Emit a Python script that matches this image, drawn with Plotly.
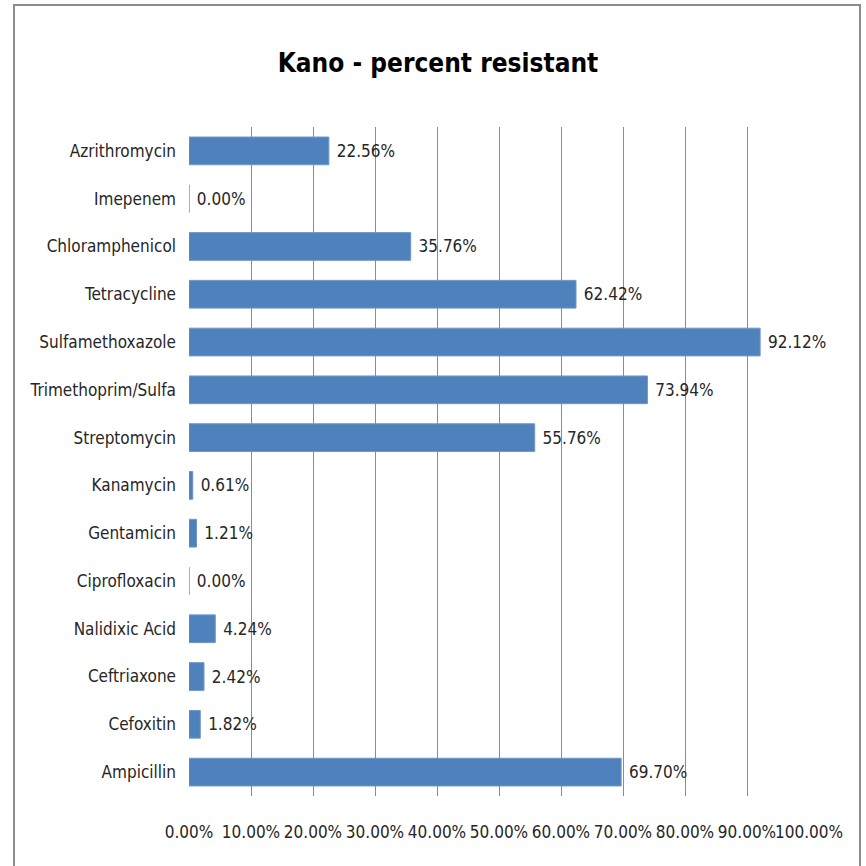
import plotly.graph_objects as go

# Antibiotic resistance, Kano isolates (percent of isolates resistant)
drugs = [
    "Azrithromycin", "Imepenem", "Chloramphenicol", "Tetracycline",
    "Sulfamethoxazole", "Trimethoprim/Sulfa", "Streptomycin", "Kanamycin",
    "Gentamicin", "Ciprofloxacin", "Nalidixic Acid", "Ceftriaxone",
    "Cefoxitin", "Ampicillin",
]
percent_resistant = [
    22.56, 0.00, 35.76, 62.42, 92.12, 73.94, 55.76, 0.61,
    1.21, 0.00, 4.24, 2.42, 1.82, 69.70,
]
x_ticks = [0, 10, 20, 30, 40, 50, 60, 70, 80, 90, 100]

FONT = "DejaVu Sans Condensed, Liberation Sans Narrow, Arial Narrow, sans-serif"
BAR = "#4F81BD"
TEXT = "#262626"

W, H = 866, 866
L, R, T, B = 189, 57, 127, 70
pw, ph = W - L - R, H - T - B


def px_x(px):
    return (px - L) / pw


def px_y(py):
    return 1 - (py - T) / ph


fig = go.Figure(
    go.Bar(
        x=percent_resistant,
        y=drugs,
        orientation="h",
        marker=dict(color=BAR, line=dict(color="#6E97C8", width=1)),
        texttemplate="&nbsp;%{x:.2f}%",
        textposition="outside",
        textfont=dict(family=FONT, size=17, color=TEXT),
        cliponaxis=False,
        hoverinfo="skip",
    )
)

fig.update_layout(
    width=W,
    height=H,
    margin=dict(l=L, r=R, t=T, b=B, autoexpand=False),
    paper_bgcolor="white",
    plot_bgcolor="white",
    bargap=0.42,
    showlegend=False,
    title=dict(
        text="<b>Kano - percent resistant</b>",
        x=438 / W,
        xanchor="center",
        xref="container",
        y=1 - 63 / H,
        yanchor="middle",
        yref="container",
        font=dict(family=FONT, size=26, color="black"),
    ),
    shapes=[
        # chart frame
        dict(
            type="rect", xref="paper", yref="paper",
            x0=px_x(14), x1=px_x(860), y0=px_y(900), y1=px_y(5),
            line=dict(color="#8C8C8C", width=2), layer="below",
        )
    ],
)

fig.update_xaxes(
    range=[0, 100],
    tickvals=x_ticks,
    ticktext=[f"{v:.2f}%" for v in x_ticks],
    tickangle=0,
    automargin=False,
    showgrid=True,
    gridcolor="#8C8C8C",
    gridwidth=1,
    zeroline=False,
    showline=False,
    ticks="",
    ticklabelstandoff=24,
    tickfont=dict(family=FONT, size=17, color=TEXT),
)

fig.update_yaxes(
    autorange="reversed",
    automargin=False,
    showgrid=False,
    zeroline=False,
    showline=False,
    ticks="",
    ticklabelstandoff=12,
    tickfont=dict(family=FONT, size=17, color=TEXT),
)

fig.write_html("out.html")
